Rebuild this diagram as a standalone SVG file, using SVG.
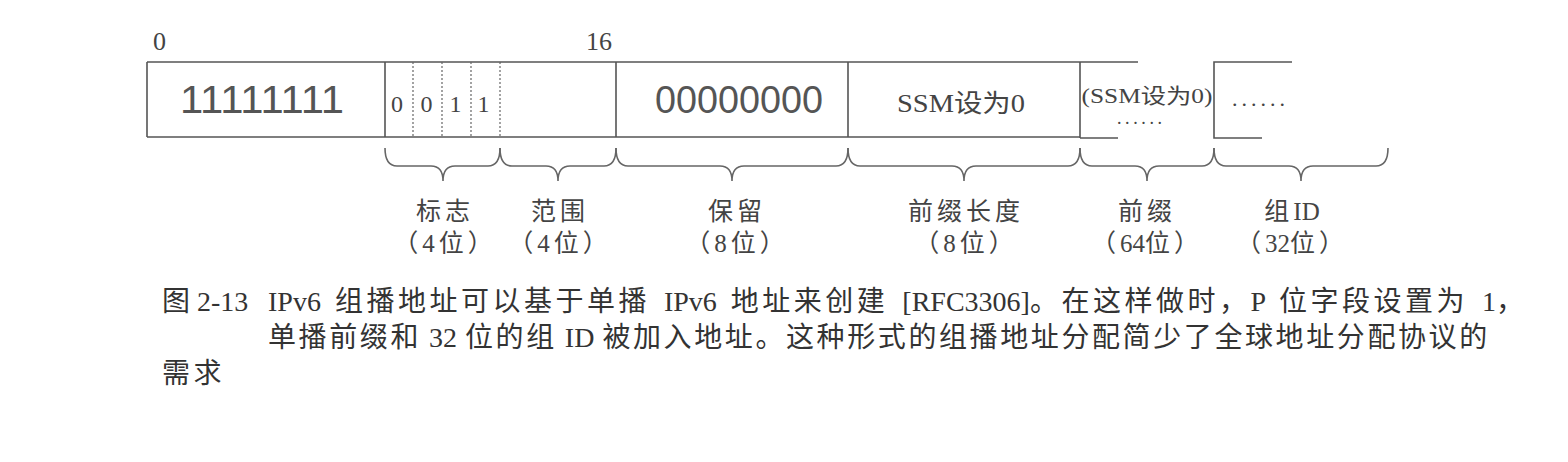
<svg xmlns="http://www.w3.org/2000/svg" width="1568" height="462" viewBox="0 0 1568 462">
<style>
.ln{fill:none;stroke:#555;stroke-width:1.6}
.dot{fill:none;stroke:#666;stroke-width:1.2;stroke-dasharray:2 2}
.br{fill:none;stroke:#666;stroke-width:1.6}
.serif{font-family:"Liberation Serif","Noto Sans CJK SC",serif;fill:#444}
.sans{font-family:"Liberation Sans",Arial,sans-serif;fill:#555}
.lab{font-family:"Liberation Serif","Noto Sans CJK SC",serif;fill:#444;font-size:25px;letter-spacing:4px}
.tight{letter-spacing:0}
.cap{font-family:"Liberation Serif","Noto Sans CJK SC",serif;fill:#333;font-size:28px}
.cj{letter-spacing:3.5px}
.cj2{letter-spacing:2.6px}
</style>
<rect width="1568" height="462" fill="#fff"/>
<g id="scale">
<text class="serif" x="153" y="50" font-size="26">0</text>
<text class="serif" x="586" y="50" font-size="26">16</text>
</g>
<g id="field-ff">
<path class="ln" d="M147,62 H385 M147,137 H385 M147,62 V137 M385,62 V137"/>
<text class="sans" x="262" y="113" font-size="38" text-anchor="middle" textLength="164" lengthAdjust="spacingAndGlyphs">11111111</text>
</g>
<g id="field-flags">
<path class="ln" d="M385,62 H500 M385,137 H500"/>
<path class="dot" d="M413,62 V137 M442,62 V137 M471,62 V137 M500,62 V137"/>
<text class="serif" x="397" y="112" font-size="24" text-anchor="middle">0</text>
<text class="serif" x="426.5" y="112" font-size="24" text-anchor="middle">0</text>
<text class="serif" x="455.5" y="112" font-size="24" text-anchor="middle">1</text>
<text class="serif" x="483.5" y="112" font-size="24" text-anchor="middle">1</text>
</g>
<g id="field-scope">
<path class="ln" d="M500,62 H616 M500,137 H616 M616,62 V137"/>
</g>
<g id="field-reserved">
<path class="ln" d="M616,62 H848 M616,137 H848 M848,62 V137"/>
<text class="sans" x="739" y="113" font-size="38" text-anchor="middle" textLength="168" lengthAdjust="spacingAndGlyphs">00000000</text>
</g>
<g id="field-plen">
<path class="ln" d="M848,62 H1080 M848,137 H1080 M1080,62 V138"/>
<text class="serif" x="961" y="112" font-size="25" text-anchor="middle" textLength="128" lengthAdjust="spacingAndGlyphs">SSM设为0</text>
</g>
<g id="field-prefix">
<path class="ln" d="M1080,62 H1138 M1080,138 H1118"/>
<text class="serif" x="1147" y="103" font-size="21" text-anchor="middle" textLength="131" lengthAdjust="spacingAndGlyphs">(SSM设为0)</text>
<text class="serif" x="1139.5" y="124" font-size="18" text-anchor="middle" textLength="45" lengthAdjust="spacing">......</text>
</g>
<g id="field-groupid">
<path class="ln" d="M1292,62 H1214 V138 H1262"/>
<text class="serif" x="1258.5" y="106" font-size="22" text-anchor="middle" textLength="53" lengthAdjust="spacing">......</text>
</g>
<g id="braces">
<path class="br" d="M385,148 Q385,166 397,166 H431 Q443,166 443,181 Q443,166 455,166 H488 Q500,166 500,148"/>
<path class="br" d="M500,148 Q500,166 512,166 H546 Q558,166 558,181 Q558,166 570,166 H604 Q616,166 616,148"/>
<path class="br" d="M616,148 Q616,166 628,166 H720 Q732,166 732,181 Q732,166 744,166 H836 Q848,166 848,148"/>
<path class="br" d="M848,148 Q848,166 860,166 H952 Q964,166 964,181 Q964,166 976,166 H1068 Q1080,166 1080,148"/>
<path class="br" d="M1080,148 Q1080,166 1092,166 H1135 Q1147,166 1147,181 Q1147,166 1159,166 H1202 Q1214,166 1214,148"/>
<path class="br" d="M1214,148 Q1214,166 1226,166 H1289 Q1301,166 1301,181 Q1301,166 1313,166 H1376 Q1388,166 1388,148"/>
</g>
<g id="labels">
<text class="lab" x="445" y="220" text-anchor="middle">标志</text>
<text class="lab" x="445" y="252" text-anchor="middle">（4位）</text>
<text class="lab" x="560" y="220" text-anchor="middle">范围</text>
<text class="lab" x="560" y="252" text-anchor="middle">（4位）</text>
<text class="lab" x="737" y="220" text-anchor="middle">保留</text>
<text class="lab" x="737" y="252" text-anchor="middle">（8位）</text>
<text class="lab" x="966" y="220" text-anchor="middle">前缀长度</text>
<text class="lab" x="966" y="252" text-anchor="middle">（8位）</text>
<text class="lab" x="1147" y="220" text-anchor="middle">前缀</text>
<text class="lab" x="1147" y="252" text-anchor="middle">（<tspan class="tight">64</tspan>位）</text>
<text class="lab" x="1292" y="220" text-anchor="middle">组<tspan class="tight">ID</tspan></text>
<text class="lab" x="1292" y="252" text-anchor="middle">（<tspan class="tight">32</tspan>位）</text>
</g>
<g id="caption">
<text class="cap" x="162" y="311">图 2-13</text>
<text class="cap" x="268" y="311" word-spacing="7">IPv6 <tspan class="cj">组播地址可以基于单播</tspan> IPv6 <tspan class="cj">地址来创建</tspan> [RFC3306]<tspan class="cj">。在这样做时，</tspan>P <tspan class="cj">位字段设置为</tspan> 1<tspan class="cj">，</tspan></text>
<text class="cap" x="268" y="347" word-spacing="1"><tspan class="cj2">单播前缀和</tspan> 32 <tspan class="cj2">位的组</tspan> ID <tspan class="cj2">被加入地址。这种形式的组播地址分配简少了全球地址分配协议的</tspan></text>
<text class="cap" x="162" y="383"><tspan class="cj">需求</tspan></text>
</g>
</svg>
